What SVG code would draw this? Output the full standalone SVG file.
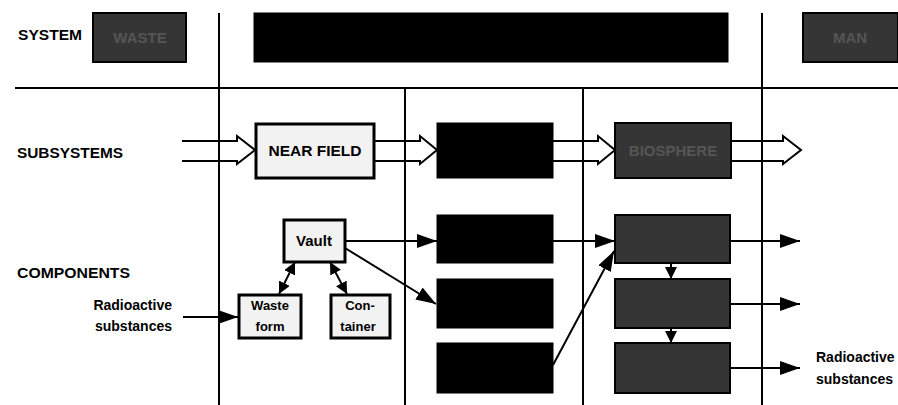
<svg xmlns="http://www.w3.org/2000/svg" width="898" height="405" viewBox="0 0 898 405">
<defs>
<style>
.lbl{font-family:"Liberation Sans",Arial,sans-serif;fill:#000;font-weight:bold}
.hd{font-size:14px}
.rs{font-size:14px}
.bx{font-family:"Liberation Sans",Arial,sans-serif;font-weight:bold;text-anchor:middle;fill:#000}
.gtx{font-family:"Liberation Sans",Arial,sans-serif;font-weight:bold;text-anchor:middle;fill:#555;font-size:15px}
.light{fill:#f2f2f2;stroke:#000;stroke-width:3}
.dark{fill:#353535;stroke:#000;stroke-width:2}
.black{fill:#000;stroke:#000;stroke-width:1}
.sep{stroke:#000;stroke-width:2;fill:none}
.con{stroke:#000;stroke-width:2;fill:none}
.blk{fill:none;stroke:#000;stroke-width:2;stroke-linejoin:miter}
</style>
<marker id="ah" markerUnits="userSpaceOnUse" markerWidth="20" markerHeight="14" refX="20" refY="7" orient="auto-start-reverse">
<path d="M0,0 L20,7 L0,14 Z" fill="#000"/>
</marker>
<marker id="ahs" markerUnits="userSpaceOnUse" markerWidth="12" markerHeight="12" refX="12" refY="6" orient="auto-start-reverse">
<path d="M0,0 L12,6 L0,12 Z" fill="#000"/>
</marker>
</defs>

<g id="separators">
<line class="sep" x1="15" y1="88" x2="898" y2="88" stroke-width="1.6"/>
<line class="sep" x1="219" y1="13" x2="219" y2="405"/>
<line class="sep" x1="405" y1="88" x2="405" y2="405"/>
<line class="sep" x1="583" y1="88" x2="583" y2="405"/>
<line class="sep" x1="762" y1="13" x2="762" y2="405"/>
</g>

<g id="row-labels">
<text class="lbl hd" x="18" y="40" textLength="64" lengthAdjust="spacingAndGlyphs">SYSTEM</text>
<text class="lbl hd" x="17" y="158" textLength="106" lengthAdjust="spacingAndGlyphs">SUBSYSTEMS</text>
<text class="lbl rs" x="17" y="278" textLength="113" lengthAdjust="spacingAndGlyphs">COMPONENTS</text>
<text class="lbl rs" x="172" y="310" text-anchor="end">Radioactive</text>
<text class="lbl rs" x="172" y="331" text-anchor="end">substances</text>
<text class="lbl rs" x="816" y="362">Radioactive</text>
<text class="lbl rs" x="816" y="384">substances</text>
</g>

<g id="sys-waste">
<rect class="dark" x="93" y="13" width="93" height="49"/>
<text class="gtx" x="140" y="43">WASTE</text>
</g>
<g id="sys-middle">
<rect class="black" x="254" y="13" width="474" height="49"/>
</g>
<g id="sys-man">
<rect class="dark" x="803" y="13" width="95" height="49"/>
<text class="gtx" x="850" y="43">MAN</text>
</g>

<g id="sub-nearfield">
<rect class="light" x="256" y="124" width="118" height="54"/>
<text class="bx" x="315" y="156" font-size="15.5">NEAR FIELD</text>
</g>
<g id="sub-middle">
<rect class="black" x="437" y="123" width="116" height="55"/>
</g>
<g id="sub-biosphere">
<rect class="dark" x="615" y="123" width="116" height="55"/>
<text class="gtx" x="673" y="156">BIOSPHERE</text>
</g>

<g id="comp-vault">
<rect class="light" x="284" y="220" width="61" height="42"/>
<text class="bx" x="314" y="246" font-size="15">Vault</text>
</g>
<g id="comp-wasteform">
<rect class="light" x="239" y="295" width="62" height="43"/>
<text class="bx" x="270" y="310" font-size="13">Waste</text>
<text class="bx" x="270" y="331" font-size="13">form</text>
</g>
<g id="comp-container">
<rect class="light" x="331" y="295" width="59" height="43"/>
<text class="bx" x="360" y="310" font-size="13">Con-</text>
<text class="bx" x="358" y="331" font-size="13">tainer</text>
</g>
<g id="comp-black1"><rect class="black" x="437" y="215" width="116" height="48"/></g>
<g id="comp-black2"><rect class="black" x="437" y="279" width="116" height="49"/></g>
<g id="comp-black3"><rect class="black" x="437" y="343" width="116" height="50"/></g>
<g id="comp-gray1"><rect class="dark" x="615" y="215" width="115" height="48"/></g>
<g id="comp-gray2"><rect class="dark" x="615" y="279" width="115" height="49"/></g>
<g id="comp-gray3"><rect class="dark" x="615" y="343" width="115" height="50"/></g>

<g id="connectors">
<path class="blk" d="M182,141 H237 V136 L255,150 L237,164 V161 H182"/>
<path class="blk" d="M374,141 H420 V136 L437,150 L420,164 V161 H374"/>
<path class="blk" d="M553,141 H598 V136 L615,150 L598,164 V161 H553"/>
<path class="blk" d="M731,141 H783 V136 L801,150 L783,164 V161 H731"/>

<line class="con" x1="183" y1="317" x2="238" y2="317" marker-end="url(#ah)"/>
<line class="con" x1="295" y1="262" x2="279" y2="294" marker-start="url(#ahs)" marker-end="url(#ahs)"/>
<line class="con" x1="330" y1="262" x2="347" y2="294" marker-start="url(#ahs)" marker-end="url(#ahs)"/>
<line class="con" x1="345" y1="241" x2="437" y2="241" marker-end="url(#ah)"/>
<line class="con" x1="345" y1="248" x2="436" y2="304" marker-end="url(#ah)"/>
<line class="con" x1="553" y1="241" x2="615" y2="241" marker-end="url(#ah)"/>
<line class="con" x1="553" y1="365" x2="614" y2="251" marker-end="url(#ah)"/>
<line class="con" x1="671" y1="263" x2="671" y2="279" marker-end="url(#ahs)"/>
<line class="con" x1="671" y1="328" x2="671" y2="343" marker-end="url(#ahs)"/>
<line class="con" x1="730" y1="241" x2="800" y2="241" marker-end="url(#ah)"/>
<line class="con" x1="730" y1="304" x2="800" y2="304" marker-end="url(#ah)"/>
<line class="con" x1="730" y1="368" x2="800" y2="368" marker-end="url(#ah)"/>
</g>
</svg>
